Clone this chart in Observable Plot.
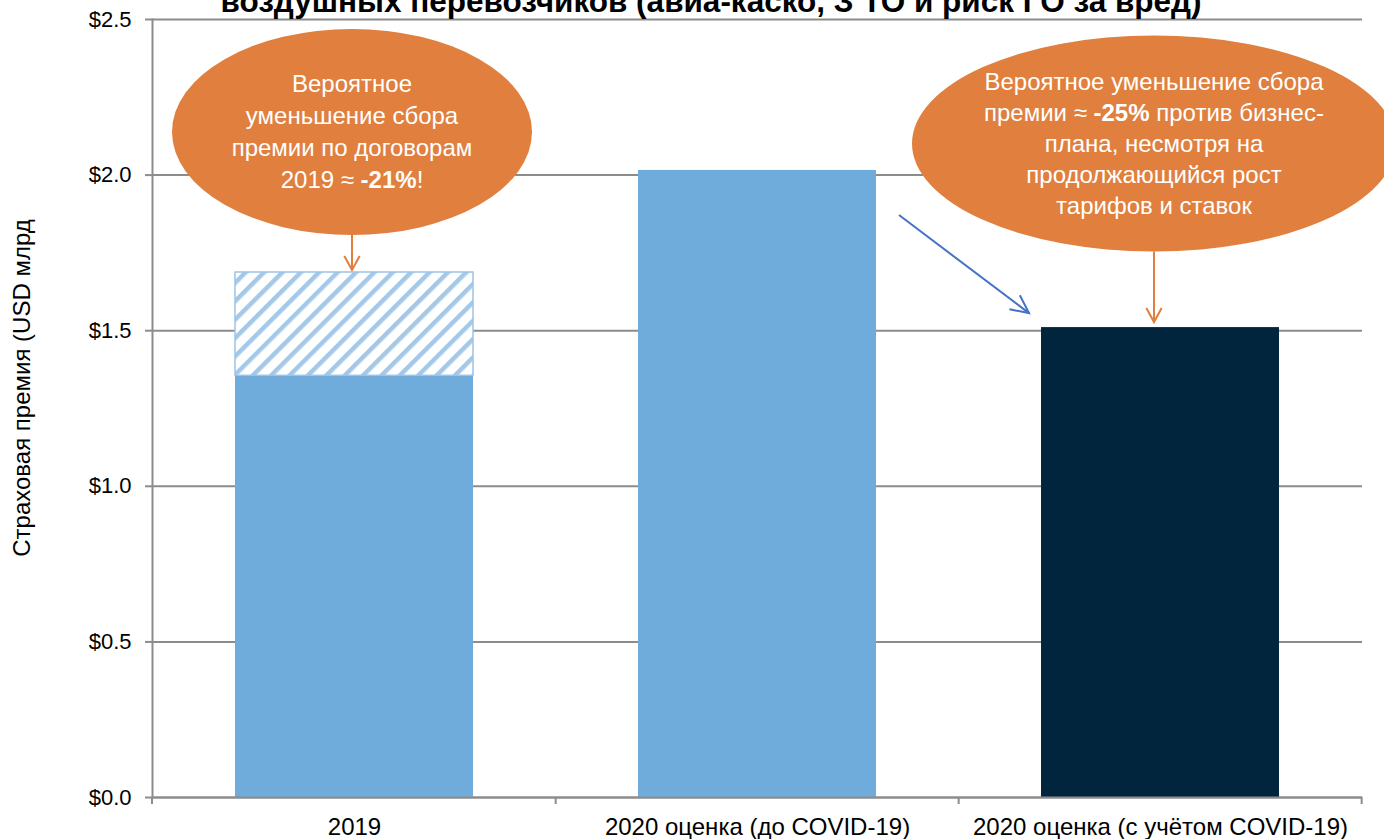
<!DOCTYPE html>
<html>
<head>
<meta charset="utf-8">
<script src="https://cdn.jsdelivr.net/npm/d3@7"></script>
<script src="https://cdn.jsdelivr.net/npm/@observablehq/plot@0.6"></script>
<style>
  html, body { margin: 0; padding: 0; background: #fff; }
  #chart { width: 1384px; height: 839px; overflow: hidden; position: relative; }
</style>
</head>
<body>
<div id="chart"></div>
<script>
// ---- data ----
const categories = ["2019", "2020 оценка (до COVID-19)", "2020 оценка (с учётом COVID-19)"];
const premium = [1.355, 2.015, 1.51];
const barColors = ["#6FACDC", "#6FACDC", "#00253D"];
const hatchFrom = [1.355];
const hatchTo = [1.687];
const hatchCategories = ["2019"];
const yTicks = [0, 0.5, 1.0, 1.5, 2.0, 2.5];
const titleText = "воздушных перевозчиков (авиа-каско, З ТО и риск ГО за вред)";
const yLabel = "Страховая премия (USD млрд";
const noteLeftLines = [["Вероятное"], ["уменьшение сбора"], ["премии по договорам"], ["2019 ≈ ", "-21%", "!"]];
const noteRightLines = [["Вероятное уменьшение сбора"], ["премии ≈ ", "-25%", " против бизнес-"], ["плана, несмотря на"], ["продолжающийся рост"], ["тарифов и ставок"]];
// annotation anchors (category, value)
const noteLeftAnchor = {cat: "2019", value: 2.137, target: 1.687};
const noteRightAnchor = {cat: "2020 оценка (с учётом COVID-19)", value: 2.10, target: 1.51};
const trendFrom = {cat: "2020 оценка (до COVID-19)", value: 1.87};
const trendTo = {cat: "2020 оценка (с учётом COVID-19)", value: 1.555};

const bars = categories.map((c, i) => ({cat: c, value: premium[i], color: barColors[i]}));
const hatch = hatchCategories.map((c, i) => ({cat: c, y1: hatchFrom[i], y2: hatchTo[i]}));

const GRID = "#8C8C8C";
const ORANGE = "#E07F3E";
const FONT = "'Liberation Sans', Arial, sans-serif";

const plot = Plot.plot({
  width: 1384,
  height: 839,
  marginLeft: 152,
  marginRight: 22,
  marginTop: 19,
  marginBottom: 42,
  style: {fontFamily: FONT, fontSize: "22px", color: "#000", background: "white", overflow: "visible"},
  x: {domain: categories, paddingInner: 0.41, paddingOuter: 0.205, label: null},
  y: {domain: [0, 2.5], label: null},
  color: {type: "identity"},
  marks: [
    Plot.gridY(yTicks, {stroke: GRID, strokeOpacity: 1, strokeWidth: 2}),
    Plot.barY(bars, {x: "cat", y1: 0, y2: "value", fill: "color"}),
    Plot.barY(hatch, {x: "cat", y1: "y1", y2: "y2", fill: "url(#hatch)", stroke: "#9DC3E6", strokeWidth: 1.5}),
    Plot.ruleY([0], {stroke: GRID, strokeWidth: 2}),
    Plot.frame({anchor: "left", stroke: GRID, strokeWidth: 2}),
    Plot.axisY(yTicks, {tickSize: 7, tickPadding: 14, stroke: GRID, strokeWidth: 2, fill: "#000", fontSize: 22,
      tickFormat: d => "$" + d.toFixed(1), label: null}),
    Plot.axisX({tickSize: 0, tickPadding: 20, fill: "#000", fontSize: 24, label: null})
  ]
});

document.getElementById("chart").appendChild(plot);

const svg = d3.select(plot);
// hatch pattern
const defs = svg.insert("defs", ":first-child");
const pat = defs.append("pattern").attr("id", "hatch").attr("patternUnits", "userSpaceOnUse")
  .attr("width", 13).attr("height", 13).attr("patternTransform", "rotate(45)");
pat.append("rect").attr("width", 13).attr("height", 13).attr("fill", "#fff");
pat.append("rect").attr("width", 4.5).attr("height", 13).attr("fill", "#A4C8E8");

const xs = plot.scale("x"), ys = plot.scale("y");
const cx = c => xs.apply(c) + xs.bandwidth / 2;
const Y = v => ys.apply(v);
const step = (xs.range[1] - xs.range[0]) / categories.length;

const g = svg.append("g");

// x-axis boundary ticks
const bounds = [xs.range[0]].concat(categories.map(c => cx(c) + step / 2));
g.selectAll("line.xt").data(bounds).join("line")
  .attr("x1", d => d).attr("x2", d => d).attr("y1", Y(0)).attr("y2", Y(0) + 7)
  .attr("stroke", GRID).attr("stroke-width", 2);

// title (cut off at top, as in the reference)
g.append("text").attr("x", 711).attr("y", 12).attr("text-anchor", "middle")
  .attr("font-family", FONT).attr("font-weight", "bold").attr("font-size", 31.5).attr("fill", "#000")
  .text(titleText);

// y label
g.append("text").attr("transform", `translate(30, 388) rotate(-90)`).attr("text-anchor", "middle")
  .attr("font-family", FONT).attr("font-size", 24).attr("fill", "#000").text(yLabel);

function arrowHead(x, y, angle, len, spread, color) {
  const a1 = angle + Math.PI - spread, a2 = angle + Math.PI + spread;
  g.append("path")
    .attr("d", `M${x + len * Math.cos(a1)},${y + len * Math.sin(a1)} L${x},${y} L${x + len * Math.cos(a2)},${y + len * Math.sin(a2)}`)
    .attr("fill", "none").attr("stroke", color).attr("stroke-width", 2).attr("stroke-linejoin", "miter");
}

function note(anchor, dx, rx, ry, lines, lineH, tipGap) {
  const x = cx(anchor.cat) + dx, y = Y(anchor.value);
  const y0 = y + ry, y1 = Y(anchor.target) - tipGap;
  g.append("line").attr("x1", x).attr("x2", x).attr("y1", y0).attr("y2", y1)
    .attr("stroke", ORANGE).attr("stroke-width", 2);
  arrowHead(x, y1, Math.PI / 2, 16, 0.5, ORANGE);
  g.append("ellipse").attr("cx", x).attr("cy", y).attr("rx", rx).attr("ry", ry).attr("fill", ORANGE);
  const t = g.append("text").attr("font-family", FONT).attr("font-size", 24).attr("fill", "#fff")
    .attr("text-anchor", "middle");
  lines.forEach((parts, i) => {
    const ly = y + (i - (lines.length - 1) / 2) * lineH;
    parts.forEach((p, j) => {
      const ts = t.append("tspan").text(p);
      if (j === 0) ts.attr("x", x).attr("y", ly).attr("dy", "0.35em");
      if (p.startsWith("-") && p.endsWith("%")) ts.attr("font-weight", "bold");
    });
  });
}

note(noteLeftAnchor, -2, 180, 103, noteLeftLines, 32, 2);
note(noteRightAnchor, -6, 242, 108, noteRightLines, 31, 5);

// trend arrow
const bx1 = cx(trendFrom.cat) + 142, by1 = Y(trendFrom.value);
const bx2 = cx(trendTo.cat) - 131, by2 = Y(trendTo.value);
g.append("line").attr("x1", bx1).attr("y1", by1).attr("x2", bx2).attr("y2", by2)
  .attr("stroke", "#4472C4").attr("stroke-width", 2);
arrowHead(bx2, by2, Math.atan2(by2 - by1, bx2 - bx1), 20, 0.45, "#4472C4");
</script>
</body>
</html>
